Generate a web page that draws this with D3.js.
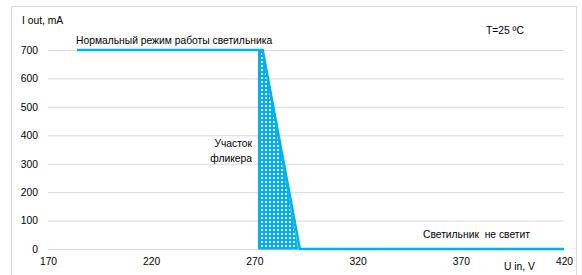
<!DOCTYPE html>
<html>
<head>
<meta charset="utf-8">
<script src="https://cdn.jsdelivr.net/npm/d3@7"></script>
<style>
  body { margin: 0; background: #fff; }
  svg text { font-family: "Liberation Sans", Arial, sans-serif; fill: #000; white-space: pre; }
</style>
</head>
<body>
<svg id="chart" width="582" height="275"></svg>
<script>
// data
var xTicks = [170, 220, 270, 320, 370, 420];
var yTicks = [0, 100, 200, 300, 400, 500, 600, 700];
var lineU = [184, 274, 292, 420];
var lineI = [700, 700, 0, 0];
var flickerU = [272, 272, 274, 291];
var flickerI = [0, 700, 700, 0];

var svg = d3.select("#chart"),
    blue = "#00b0f0",
    grid = "#d9d9d9";

var x = d3.scaleLinear().domain([170, 420]).range([48, 564]);
var y = d3.scaleLinear().domain([0, 700]).range([249, 50]);

// chart border
svg.append("rect")
    .attr("x", 11.5).attr("y", 6.5)
    .attr("width", 565).attr("height", 280)
    .attr("fill", "none")
    .attr("stroke", grid);

// dotted fill for flicker zone
var pat = svg.append("defs").append("pattern")
    .attr("id", "dots")
    .attr("patternUnits", "userSpaceOnUse")
    .attr("width", 4).attr("height", 4);
pat.append("rect").attr("width", 4).attr("height", 4).attr("fill", blue);
pat.append("rect").attr("x", 1).attr("y", 1).attr("width", 2).attr("height", 2).attr("fill", "#fff");

// y grid + labels
var yAxis = svg.append("g")
    .attr("transform", "translate(" + x(170) + ",0)")
    .call(d3.axisLeft(y).tickValues(yTicks).tickSize(-(x(420) - x(170))).tickPadding(10));
yAxis.select(".domain").remove();
yAxis.selectAll("line").attr("stroke", grid);
yAxis.selectAll("text").attr("font-size", "10.3px").attr("font-family", "Liberation Sans, Arial, sans-serif");

// x labels
var xAxis = svg.append("g")
    .attr("transform", "translate(0," + y(0) + ")")
    .call(d3.axisBottom(x).tickValues(xTicks).tickSize(0).tickPadding(9));
xAxis.select(".domain").remove();
xAxis.selectAll("text").attr("font-size", "10.3px").attr("font-family", "Liberation Sans, Arial, sans-serif");

// flicker area
var pts = flickerU.map(function(u, i) { return [x(u), y(flickerI[i])]; });
svg.append("path")
    .attr("d", d3.line()(pts) + "Z")
    .attr("fill", "url(#dots)")
    .attr("stroke", blue)
    .attr("stroke-width", 1);

// current line
var linePts = lineU.map(function(u, i) { return [x(u), y(lineI[i])]; });
svg.append("path")
    .attr("d", d3.line()(linePts))
    .attr("fill", "none")
    .attr("stroke", blue)
    .attr("stroke-width", 2.5);

// labels
function label(tx, ty, s, anchor) {
  svg.append("text")
      .attr("x", tx).attr("y", ty)
      .attr("font-size", "10.3px")
      .attr("text-anchor", anchor || "start")
      .text(s);
}
label(22, 24, "I out, mA");
label(76, 44, "Нормальный режим работы светильника");
label(486, 34, "T=25 ºC");
label(252, 147, "Участок", "end");
label(252, 162, "фликера", "end");
label(530, 238, "Светильник  не светит", "end");
label(504, 270, "U in, V");
</script>
</body>
</html>
